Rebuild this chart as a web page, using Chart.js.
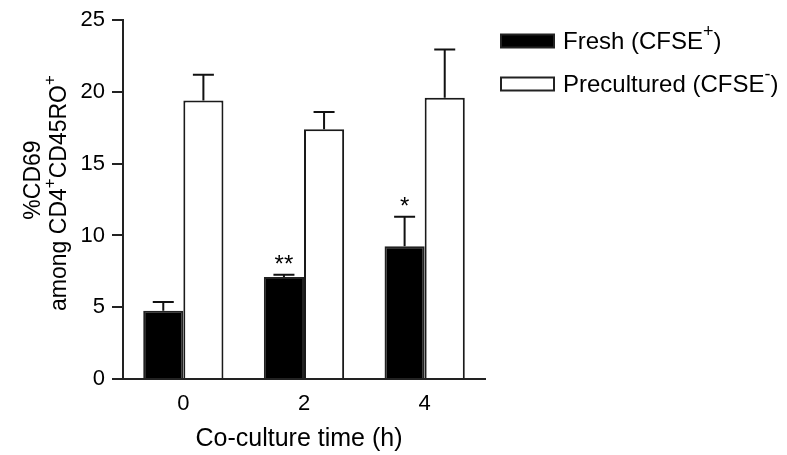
<!DOCTYPE html>
<html><head><meta charset="utf-8">
<script src="https://cdn.jsdelivr.net/npm/chart.js@4"></script>
<style>html,body{margin:0;padding:0;background:#fff;overflow:hidden}#wrap{width:787px;height:455px}</style>
</head><body><div id="wrap"><canvas id="c" width="787" height="455"></canvas></div>
<script>
const categories = ['0', '2', '4'];
const freshValues = [4.75, 7.1, 9.25];
const freshErrors = [0.62, 0.16, 2.05];
const preculturedValues = [19.4, 17.4, 19.6];
const preculturedErrors = [1.8, 1.2, 3.35];
const significance = ['', '**', '*'];
const yTickValues = [0, 5, 10, 15, 20, 25];

const FONT = "'Liberation Sans', Arial, Helvetica, sans-serif";
const FS = 24;
const TICK_FS = 22;

function drawRich(ctx, segs, x, y, size, align) {
  const supSize = Math.round(size * 0.75);
  let total = 0;
  segs.forEach(s => {
    ctx.font = (s.sup ? supSize : size) + 'px ' + FONT;
    s.w = ctx.measureText(s.t).width;
    total += s.w;
  });
  let cx = align === 'center' ? x - total / 2 : x;
  ctx.textAlign = 'left';
  ctx.textBaseline = 'middle';
  segs.forEach(s => {
    ctx.font = (s.sup ? supSize : size) + 'px ' + FONT;
    ctx.fillText(s.t, cx, s.sup ? y - size * 0.42 : y);
    cx += s.w;
  });
}

const decorPlugin = {
  id: 'decor',
  afterDatasetsDraw(chart) {
    const ctx = chart.ctx;
    const ys = chart.scales.y;
    const sets = [[freshValues, freshErrors], [preculturedValues, preculturedErrors]];
    ctx.save();
    ctx.strokeStyle = '#111';
    ctx.lineWidth = 2;
    sets.forEach((pair, di) => {
      const meta = chart.getDatasetMeta(di);
      meta.data.forEach((bar, i) => {
        const top = ys.getPixelForValue(pair[0][i] + pair[1][i]);
        const base = ys.getPixelForValue(pair[0][i]);
        ctx.beginPath();
        ctx.moveTo(bar.x, base);
        ctx.lineTo(bar.x, top);
        ctx.moveTo(bar.x - 10.5, top);
        ctx.lineTo(bar.x + 10.5, top);
        ctx.stroke();
        if (di === 0 && significance[i]) {
          ctx.fillStyle = '#000';
          ctx.font = '24px ' + FONT;
          ctx.textAlign = 'center';
          ctx.textBaseline = 'alphabetic';
          ctx.fillText(significance[i], bar.x, top - 3);
        }
      });
    });
    ctx.restore();
  },
  afterDraw(chart) {
    const ctx = chart.ctx;
    ctx.save();
    ctx.fillStyle = '#000';
    // y title
    ctx.save();
    ctx.translate(34, 180);
    ctx.rotate(-Math.PI / 2);
    drawRich(ctx, [{t: '%CD69'}], 0, 0, 23, 'center');
    ctx.restore();
    ctx.save();
    ctx.translate(60, 193);
    ctx.rotate(-Math.PI / 2);
    drawRich(ctx, [{t: 'among CD4'}, {t: '+', sup: true}, {t: 'CD45RO'}, {t: '+', sup: true}], 0, 0, 23, 'center');
    ctx.restore();
    // x title
    drawRich(ctx, [{t: 'Co-culture time (h)'}], 299, 439, 25, 'center');
    // legend
    const ds = chart.data.datasets;
    const rows = [
      {y: 41, segs: [{t: 'Fresh (CFSE'}, {t: '+', sup: true}, {t: ')'}], d: ds[0]},
      {y: 84, segs: [{t: 'Precultured (CFSE'}, {t: '-', sup: true}, {t: ')'}], d: ds[1]}
    ];
    rows.forEach(r => {
      ctx.fillStyle = r.d.backgroundColor;
      ctx.fillRect(501, r.y - 6.5, 53, 13);
      ctx.strokeStyle = '#222';
      ctx.lineWidth = 2;
      ctx.strokeRect(501, r.y - 6.5, 53, 13);
      ctx.fillStyle = '#000';
      drawRich(ctx, r.segs, 563, r.y + 1, FS, 'left');
    });
    ctx.restore();
  }
};

new Chart(document.getElementById('c'), {
  type: 'bar',
  data: {
    labels: categories,
    datasets: [
      {label: 'Fresh (CFSE+)', data: freshValues, backgroundColor: '#000', borderColor: '#222', borderWidth: 2,
       categoryPercentage: 0.665, barPercentage: 1.0},
      {label: 'Precultured (CFSE-)', data: preculturedValues, backgroundColor: '#fff', borderColor: '#1a1a1a', borderWidth: 2,
       categoryPercentage: 0.665, barPercentage: 1.0}
    ]
  },
  options: {
    responsive: false,
    animation: false,
    devicePixelRatio: 1,
    layout: {padding: {left: 0, right: 302, top: 16, bottom: 0}},
    plugins: {legend: {display: false}, tooltip: {enabled: false}},
    scales: {
      x: {
        grid: {display: false, drawTicks: false},
        border: {display: true, color: '#222', width: 2},
        ticks: {color: '#000', font: {family: FONT, size: TICK_FS}, padding: 12},
        afterFit(s) { s.height = 76; }
      },
      y: {
        min: 0, max: 25,
        afterBuildTicks(s) { s.ticks = yTickValues.map(v => ({value: v})); },
        grid: {display: true, drawOnChartArea: false, drawTicks: true, tickLength: 11, color: '#222', lineWidth: 2},
        border: {display: true, color: '#222', width: 2},
        ticks: {color: '#000', font: {family: FONT, size: TICK_FS}, padding: 7},
        afterFit(s) { s.width = 123; }
      }
    }
  },
  plugins: [decorPlugin]
});
</script>
</body></html>
